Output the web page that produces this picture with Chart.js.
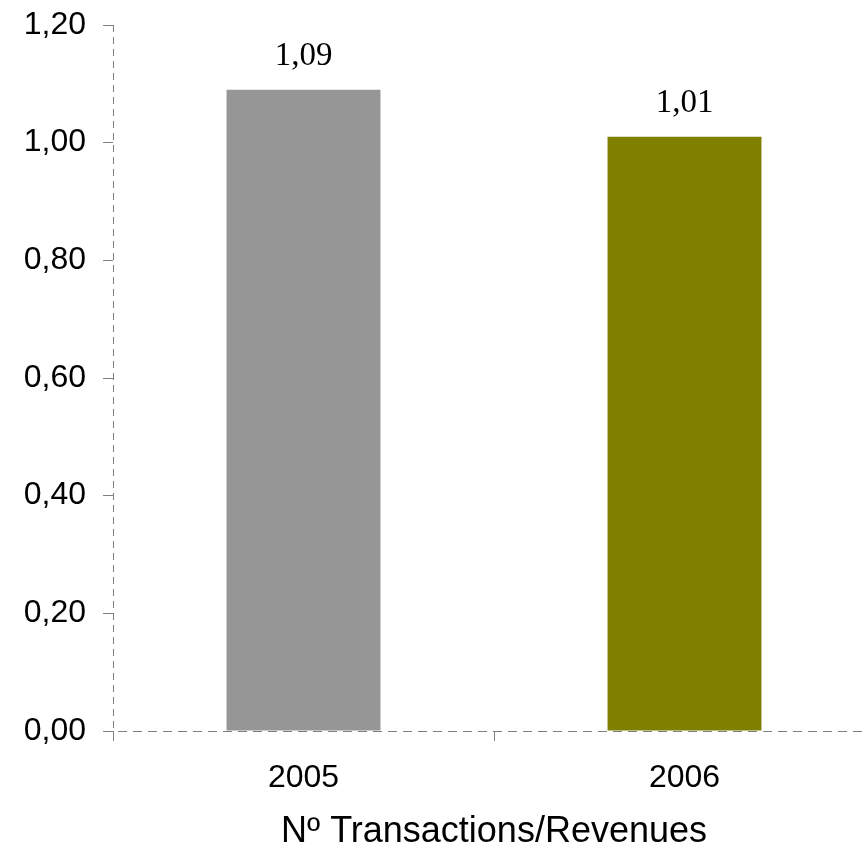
<!DOCTYPE html>
<html>
<head>
<meta charset="utf-8">
<script src="https://cdn.jsdelivr.net/npm/chart.js@4.4.1/dist/chart.umd.min.js"></script>
<style>
  html, body { margin: 0; padding: 0; background: #fff; overflow: hidden; }
  #wrap { width: 876px; height: 850px; }
</style>
</head>
<body>
<div id="wrap"><canvas id="chart" width="876" height="850"></canvas></div>
<script>
const years = ['2005', '2006'];
const ratios = [1.09, 1.01];
const barColors = ['#969696', '#808000'];
const yTicks = [0, 0.2, 0.4, 0.6, 0.8, 1.0, 1.2];

const axisGray = '#7f7f7f';
const sans = '"Liberation Sans", Arial, sans-serif';

function comma(v) {
  return v.toFixed(2).replace('.', ',');
}

// dashed axis lines, drawn over the bars
const dashedAxes = {
  id: 'dashedAxes',
  afterDatasetsDraw(chart) {
    const { ctx, chartArea, scales } = chart;
    const x0 = scales.y.right;
    const y0 = scales.y.getPixelForValue(0);
    ctx.save();
    ctx.strokeStyle = axisGray;
    ctx.lineWidth = 1;
    ctx.setLineDash([7, 5]);
    ctx.beginPath();
    ctx.moveTo(x0 + 0.5, chartArea.top);
    ctx.lineTo(x0 + 0.5, y0);
    ctx.stroke();
    ctx.setLineDash([9, 6]);
    ctx.beginPath();
    ctx.moveTo(x0 - 10, y0 + 0.5);
    ctx.lineTo(chartArea.right, y0 + 0.5);
    ctx.stroke();
    ctx.restore();
  }
};

// writes the value over each bar
const valueLabels = {
  id: 'valueLabels',
  afterDatasetsDraw(chart) {
    const ctx = chart.ctx;
    const meta = chart.getDatasetMeta(0);
    ctx.save();
    ctx.font = '33px "Liberation Serif", "Times New Roman", serif';
    ctx.fillStyle = '#000';
    ctx.textAlign = 'center';
    ctx.textBaseline = 'alphabetic';
    meta.data.forEach((bar, i) => {
      ctx.fillText(comma(ratios[i]), bar.x, bar.y - 25);
    });
    ctx.restore();
  }
};

const ctx = document.getElementById('chart');
const myChart = new Chart(ctx, {
  type: 'bar',
  data: {
    labels: years,
    datasets: [{
      data: ratios,
      backgroundColor: barColors,
      borderWidth: 0,
      barPercentage: 0.404,
      categoryPercentage: 1
    }]
  },
  options: {
    responsive: false,
    animation: false,
    layout: { padding: { top: 25, right: 1, left: 0, bottom: 0 } },
    plugins: {
      legend: { display: false },
      tooltip: { enabled: false }
    },
    scales: {
      y: {
        min: 0,
        max: 1.2,
        afterBuildTicks: (scale) => {
          scale.ticks = yTicks.map(v => ({ value: v }));
        },
        afterFit: (scale) => {
          scale.width = 113;
          scale.paddingTop = 0;
          scale.paddingBottom = 0;
        },
        border: { display: false },
        grid: { drawOnChartArea: false, drawTicks: true, tickLength: 10, color: axisGray },
        ticks: {
          padding: 17,
          color: '#000',
          font: { family: sans, size: 32 },
          callback: (v) => comma(v)
        }
      },
      x: {
        offset: true,
        afterFit: (scale) => { scale.height = 119; },
        border: { display: false },
        grid: { offset: true, drawOnChartArea: false, drawTicks: true, tickLength: 10, color: axisGray },
        ticks: {
          padding: 18,
          color: '#000',
          font: { family: sans, size: 32 }
        },
        title: {
          display: true,
          text: 'Nº Transactions/Revenues',
          color: '#000',
          font: { family: sans, size: 36, lineHeight: 1 },
          padding: { top: 0, bottom: 0 }
        }
      }
    }
  },
  plugins: [dashedAxes, valueLabels]
});
</script>
</body>
</html>
